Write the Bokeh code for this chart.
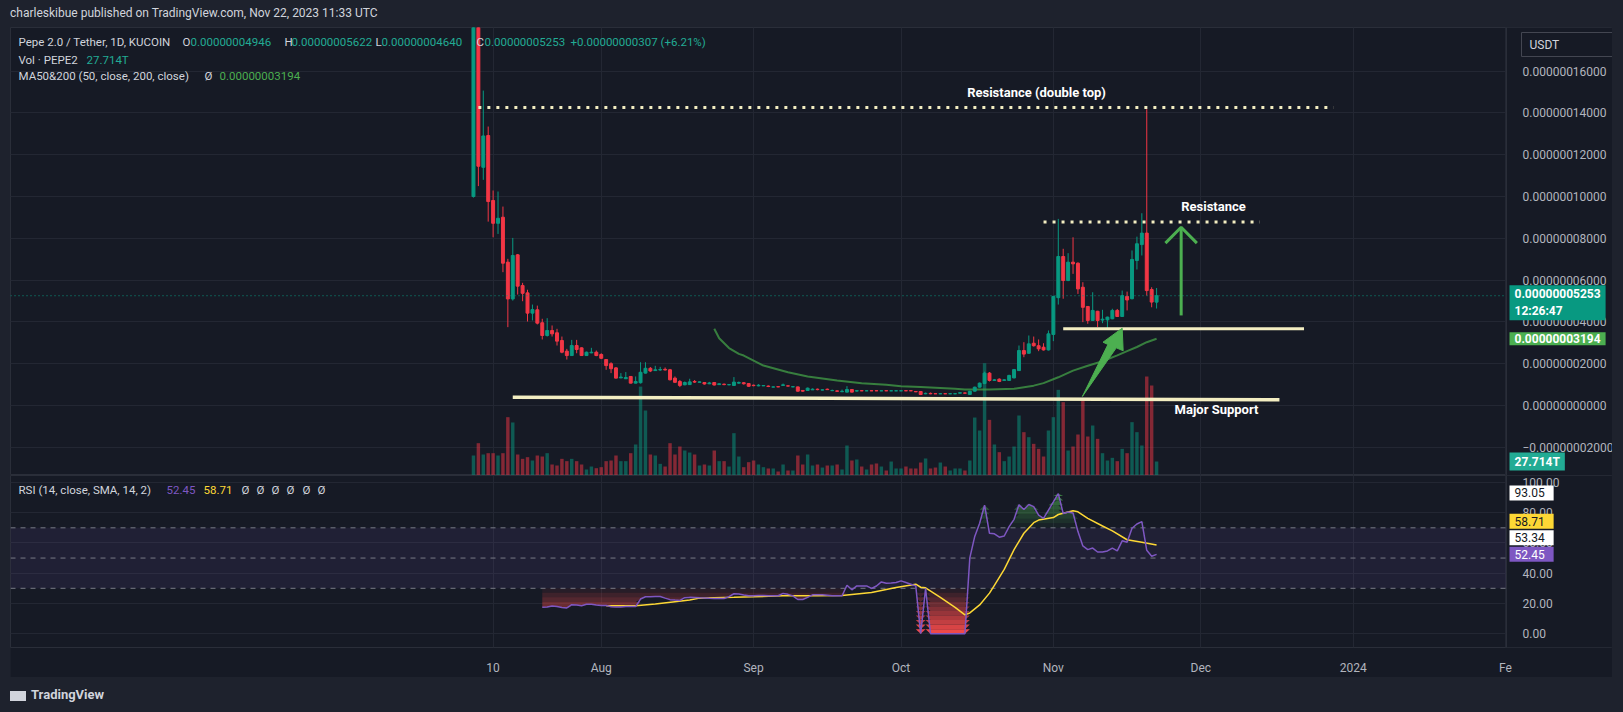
import numpy as np
import pandas as pd
from bokeh.plotting import figure
from bokeh.models import (Range1d, FixedTicker, Span, Label, Div, Spacer,
                          ColumnDataSource, BoxAnnotation, LinearAxis)
from bokeh.layouts import column, row
from bokeh.embed import file_html
from bokeh.resources import INLINE

# ---------------- data (prices in units of 1e-8 USDT, volume in T) ----------------
start_date = "2023-07-06"

open_ = [10.0, 19.5, 11.4, 12.92, 9.81, 8.72, 9.01, 6.86, 5.10, 7.21,
         5.74, 5.39, 4.42, 4.58, 3.96, 3.35, 3.59, 3.48, 3.11, 2.60,
         2.39, 2.87, 2.76, 2.39, 2.52, 2.55, 2.44, 2.20, 2.00, 1.80,
         1.32, 1.28, 1.39, 1.07, 1.09, 1.55, 1.78, 1.67, 1.70, 1.73,
         1.71, 1.31, 1.15, 0.99, 1.00, 1.15, 1.11, 1.10, 1.04, 1.10,
         1.00, 1.02, 0.99, 0.96, 1.07, 1.09, 1.05, 0.97, 0.94, 0.94,
         0.93, 0.88, 0.90, 0.96, 0.94, 0.89, 0.89, 0.72, 0.72, 0.75,
         0.78, 0.74, 0.78, 0.71, 0.70, 0.66, 0.64, 0.766, 0.69, 0.71,
         0.70, 0.71, 0.71, 0.70, 0.71, 0.70, 0.70, 0.70, 0.71, 0.71,
         0.67, 0.67, 0.56, 0.58, 0.565, 0.56, 0.565, 0.56, 0.56, 0.59,
         0.60, 0.53, 0.685, 0.877, 1.05, 1.55, 1.20, 1.26, 1.20, 1.20,
         1.32, 1.67, 2.63, 2.50, 2.98, 2.86, 2.79, 2.66, 3.40, 5.16,
         7.13, 5.98, 6.86, 6.81, 5.66, 4.74, 4.07, 4.51, 4.09, 4.10,
         4.15, 4.55, 4.26, 5.22, 5.11, 6.94, 7.70, 8.25, 5.55, 4.946]

high_ = [21.0, 20.5, 15.07, 13.35, 10.29, 10.24, 9.52, 7.02, 8.02, 7.25,
         5.87, 5.54, 4.83, 4.78, 4.15, 4.18, 3.83, 3.67, 3.30, 2.71,
         3.14, 3.14, 2.78, 2.58, 2.76, 2.63, 2.50, 2.22, 2.07, 1.84,
         1.55, 1.60, 1.40, 1.39, 2.07, 2.07, 1.84, 1.90, 1.85, 1.82,
         1.75, 1.39, 1.22, 1.15, 1.28, 1.22, 1.15, 1.12, 1.13, 1.11,
         1.06, 1.05, 1.02, 1.36, 1.15, 1.12, 1.07, 1.00, 1.02, 0.97,
         0.96, 0.91, 0.91, 1.05, 0.95, 0.91, 0.90, 0.73, 0.86, 0.82,
         0.81, 0.77, 0.81, 0.76, 0.72, 0.76, 0.925, 0.78, 0.74, 0.72,
         0.71, 0.72, 0.72, 0.71, 0.71, 0.71, 0.71, 0.71, 0.72, 0.71,
         0.67, 0.68, 0.62, 0.62, 0.57, 0.57, 0.57, 0.57, 0.57, 0.62,
         0.62, 0.70, 0.90, 1.10, 1.62, 1.60, 1.27, 1.30, 1.26, 1.47,
         1.75, 2.87, 3.03, 3.35, 3.30, 3.16, 2.98, 3.59, 5.25, 8.93,
         7.50, 7.29, 8.05, 6.85, 5.90, 4.76, 5.42, 4.53, 4.58, 4.25,
         4.63, 4.62, 5.50, 5.45, 7.42, 8.08, 9.20, 14.18, 5.66, 5.622]

low_ = [9.95, 10.5, 10.8, 8.8, 8.05, 8.21, 6.38, 3.75, 5.02, 5.31,
        4.99, 4.02, 4.07, 3.88, 3.16, 3.30, 3.30, 2.87, 2.50, 2.20,
        2.39, 2.50, 2.37, 2.37, 2.50, 2.36, 2.22, 1.71, 1.55, 1.30,
        1.31, 1.27, 1.06, 1.06, 1.05, 1.53, 1.60, 1.66, 1.66, 1.68,
        1.20, 1.09, 0.88, 0.97, 0.98, 1.08, 1.10, 1.00, 1.02, 0.96,
        0.98, 0.97, 0.97, 0.95, 1.04, 1.00, 0.90, 0.92, 0.92, 0.93,
        0.88, 0.87, 0.88, 0.95, 0.92, 0.88, 0.67, 0.66, 0.71, 0.74,
        0.73, 0.73, 0.74, 0.69, 0.66, 0.64, 0.63, 0.63, 0.67, 0.69,
        0.69, 0.69, 0.69, 0.69, 0.69, 0.69, 0.69, 0.69, 0.69, 0.69,
        0.64, 0.50, 0.54, 0.54, 0.55, 0.55, 0.55, 0.55, 0.55, 0.58,
        0.58, 0.52, 0.67, 0.86, 1.02, 1.15, 1.18, 1.12, 1.18, 1.18,
        1.30, 1.65, 2.31, 2.48, 2.82, 2.60, 2.63, 2.63, 3.08, 4.83,
        5.11, 5.95, 6.30, 5.34, 3.99, 3.91, 4.05, 3.75, 3.94, 3.67,
        4.13, 4.24, 4.24, 4.55, 5.08, 6.51, 7.18, 5.26, 4.70, 4.640]

close_ = [19.5, 11.45, 12.9, 9.76, 8.72, 8.96, 6.81, 5.10, 7.18, 5.71,
          5.37, 4.42, 4.59, 3.94, 3.35, 3.59, 3.43, 3.08, 2.55, 2.39,
          2.87, 2.68, 2.39, 2.55, 2.55, 2.39, 2.26, 1.91, 1.76, 1.31,
          1.36, 1.34, 1.07, 1.15, 1.59, 1.78, 1.65, 1.71, 1.72, 1.70,
          1.23, 1.11, 0.96, 1.10, 1.13, 1.12, 1.13, 1.03, 1.08, 0.98,
          1.04, 1.00, 1.00, 1.12, 1.10, 1.04, 0.92, 0.95, 0.97, 0.955,
          0.91, 0.89, 0.89, 0.99, 0.93, 0.90, 0.685, 0.685, 0.83, 0.78,
          0.76, 0.75, 0.76, 0.72, 0.68, 0.68, 0.766, 0.64, 0.71, 0.70,
          0.705, 0.70, 0.70, 0.705, 0.70, 0.705, 0.705, 0.705, 0.70, 0.70,
          0.655, 0.526, 0.58, 0.56, 0.56, 0.565, 0.56, 0.565, 0.565, 0.61,
          0.59, 0.685, 0.877, 1.07, 1.55, 1.20, 1.23, 1.15, 1.23, 1.44,
          1.72, 2.63, 2.46, 2.95, 2.86, 2.71, 2.66, 3.43, 5.22, 7.13,
          5.98, 6.86, 6.78, 5.58, 4.70, 4.07, 4.55, 4.07, 4.13, 4.23,
          4.55, 4.26, 5.26, 5.05, 6.99, 7.74, 8.25, 5.50, 4.95, 5.253]

volume_T = [39.6, 64.0, 41.6, 44.2, 44.2, 39.6, 44.2, 115.5, 105.0, 41.6,
            33.0, 36.3, 29.7, 39.6, 37.6, 44.2, 21.8, 19.8, 33.0, 28.4,
            33.0, 28.4, 21.8, 11.9, 17.8, 14.5, 16.5, 28.4, 29.7, 39.6,
            28.4, 28.4, 44.2, 61.4, 176.0, 128.7, 41.6, 39.6, 23.1, 17.8,
            64.0, 41.6, 57.4, 49.5, 45.5, 41.6, 19.8, 21.8, 19.8, 49.5,
            28.4, 28.4, 17.8, 83.8, 37.6, 16.5, 26.4, 29.7, 21.8, 16.5,
            13.9, 13.9, 7.9, 21.8, 9.9, 9.9, 39.6, 21.8, 41.6, 19.8,
            21.8, 15.8, 19.8, 19.8, 21.8, 11.9, 59.4, 29.7, 31.7, 17.8,
            11.9, 21.8, 23.8, 17.8, 9.9, 27.7, 13.9, 13.9, 17.8, 13.9,
            13.9, 25.7, 33.7, 13.9, 15.8, 25.7, 17.8, 9.9, 13.9, 13.9,
            9.9, 29.7, 114.8, 89.1, 222.4, 110.2, 61.4, 46.2, 28.4, 37.6,
            57.4, 118.8, 85.8, 75.9, 62.7, 52.8, 37.6, 89.1, 115.5, 169.6,
            145.2, 49.5, 57.4, 81.2, 151.8, 77.2, 99.0, 72.6, 44.2, 29.7,
            35.0, 28.4, 52.8, 44.2, 105.6, 85.8, 59.4, 196.0, 178.2, 27.714]

ma50_idx = [49, 50, 52, 54, 55, 59, 64, 68, 74, 79, 84, 87, 91, 94, 98, 100,
            105, 110, 114, 116, 119, 122, 125, 128, 131, 133, 135, 137, 139]
ma50_val = [3.67, 3.22, 2.75, 2.47, 2.39, 1.91, 1.59, 1.39, 1.20, 1.07, 0.99,
            0.92, 0.88, 0.85, 0.80, 0.77, 0.77, 0.80, 0.95, 1.07, 1.35, 1.67,
            1.90, 2.12, 2.40, 2.60, 2.80, 3.03, 3.194]

rsi_start = 14
rsi_vals = [17.4, 17.6, 18.3, 17.9, 17.3, 17.0, 19.2, 19.0, 18.5, 19.4,
            19.4, 19.0, 18.7, 18.7, 17.8, 17.6, 17.6, 17.9, 17.9, 17.9,
            22.9, 24.4, 24.4, 24.5, 24.6, 23.5, 22.5, 22.2, 22.0, 23.8,
            24.0, 23.9, 23.7, 23.6, 23.4, 23.3, 23.3, 23.3, 24.5, 26.4,
            26.2, 25.6, 25.1, 25.1, 25.3, 25.2, 25.1, 25.1, 25.1, 26.6,
            26.0, 25.0, 22.6, 22.6, 24.0, 25.7, 25.7, 25.7, 25.4, 25.1,
            25.0, 25.1, 32.0, 29.0, 31.6, 31.6, 31.6, 29.9, 31.5, 34.2,
            33.3, 33.5, 33.8, 34.9, 33.8, 32.7, 31.6, 0.0, 29.9, 0.0,
            0.0, 0.0, 0.0, 0.0, 0.0, 0.0, 0.0, 50.1, 64.3, 73.0,
            85.0, 66.4, 66.0, 63.8, 64.6, 70.8, 75.6, 85.2, 82.1, 85.4,
            84.0, 78.4, 76.3, 81.7, 87.1, 92.6, 79.5, 80.5, 79.8, 67.5,
            58.0, 55.6, 56.6, 54.0, 54.0, 54.7, 56.6, 54.8, 61.4, 60.4,
            69.7, 72.5, 74.1, 55.1, 51.2, 52.45]

rsi_ma_idx = [27, 33, 37, 41, 44, 46, 49, 53, 57, 63, 70, 75, 81, 86, 90, 91, 92,
              95, 98, 100, 101, 103, 105, 106, 108, 110, 112, 114, 115, 118, 119,
              122, 123, 125, 128, 130, 133, 136, 139]
rsi_ma_val = [18.5, 18.5, 19.6, 21.1, 22.2, 23.5, 23.7, 24.0, 24.4, 25.1, 25.1,
              25.3, 27.2, 30.5, 32.7, 30.7, 30.3, 24.0, 17.4, 12.4, 13.7, 19.0,
              26.8, 32.0, 42.5, 55.6, 66.4, 73.4, 75.1, 76.8, 78.8, 81.3, 80.6,
              76.3, 71.2, 68.0, 62.1, 60.4, 58.71]

tick_dates = ["2023-07-10", "2023-08-01", "2023-09-01", "2023-10-01",
              "2023-11-01", "2023-12-01", "2024-01-01", "2024-02-01"]
tick_labels = ["10", "Aug", "Sep", "Oct", "Nov", "Dec", "2024", "Fe"]
price_ticks = [-2, 0, 2, 4, 6, 8, 10, 12, 14, 16]
rsi_ticks = [0, 20, 40, 60, 80, 100]

# user drawings (date anchors, prices in 1e-8)
double_top_dates = ["2023-07-07", "2023-12-28"]
double_top_price = 14.26
resist_dates = ["2023-10-30", "2023-12-13"]
resist_price = 8.78
support_dates = ["2023-11-03", "2023-12-22"]
support_price = 3.67
major_support_dates = ["2023-07-14", "2023-12-17"]
major_support_prices = [0.40, 0.27]
up_arrow_date = "2023-11-27"
up_arrow_prices = [4.31, 8.53]
up_arrow_wing = (3.2, 7.77)
diag_arrow_days = [123.9, 129.1, 128.1, 132.0, 132.2, 130.8]
diag_arrow_prices = [0.43, 2.92, 3.03, 3.70, 2.62, 2.76]

# ---------------- styling ----------------
BG = "#161a25"
OUTER = "#1e222d"
GRID = "#232733"
BORDER = "#2a2e39"
TEXT = "#d1d4dc"
AXT = "#b2b5be"
UP = "#089981"
DOWN = "#f23645"
TEAL_TXT = "#22ab94"
FONT = "Roboto"
PALE = "#f3eec2"
LEG = "11.5px"

n = len(close_)
dates = pd.date_range(start_date, periods=n, freq="D")
x = np.arange(n)


def day(d):
    return (pd.Timestamp(d) - dates[0]).days


tick_pos = [day(d) for d in tick_dates]

PPD = 1496 / 304.4          # pixels per day
X0 = -94.2                  # page x = 10
X_AX = 210.2                # page x = 1506 (price scale boundary)
X1 = X0 + 1602 / PPD        # page x = 1612
xr = Range1d(X0, X1)
PY0, PY1 = -3.35, 18.09
RY0, RY1 = -9.15, 104.6


def px_to_x(px):
    return X0 + (px - 10) / PPD


def py_to_price(py):
    return PY1 - (py - 27) / 448 * (PY1 - PY0)


def py_to_rsi(py):
    return RY1 - (py - 475) / 174 * (RY1 - RY0)


o = np.array(open_); c = np.array(close_)
up = c >= o
colors = [UP if u else DOWN for u in up]
src = ColumnDataSource(dict(
    x=x, o=o, h=np.array(high_), l=np.array(low_), c=c,
    top=np.maximum(o, c), bottom=np.minimum(o, c),
    color=colors, vol=np.array(volume_T)))


def style_axis(ax, standoff):
    ax.axis_line_color = None
    ax.major_tick_line_color = None
    ax.minor_tick_line_color = None
    ax.major_label_text_color = AXT
    ax.major_label_text_font = FONT
    ax.major_label_text_font_size = "12px"
    ax.major_label_standoff = standoff


def price_scale_mask(fig):
    fig.add_layout(BoxAnnotation(left=X_AX, fill_color=BG, fill_alpha=1.0,
                                 line_color=None, level="underlay"))
    fig.add_layout(Span(location=X_AX, dimension="height", line_color=BORDER,
                        line_width=1))


# ---------------- main price pane ----------------
p = figure(width=1602, height=448, x_range=xr, y_range=Range1d(PY0, PY1),
           output_backend="svg", toolbar_location=None,
           x_axis_location=None, y_axis_location=None,
           min_border_left=0, min_border_right=0, min_border_top=0,
           min_border_bottom=0, background_fill_color=BG,
           border_fill_color=BG, outline_line_color=BORDER)
p.extra_y_ranges = {"vol": Range1d(0, 887)}
p.xgrid.ticker = FixedTicker(ticks=tick_pos)
p.ygrid.ticker = FixedTicker(ticks=price_ticks)
p.xgrid.grid_line_color = GRID
p.ygrid.grid_line_color = GRID
price_scale_mask(p)

yax = LinearAxis(fixed_location=X_AX, ticker=FixedTicker(ticks=price_ticks))
yax.major_label_overrides = {
    t: f"{t * 1e-8:.11f}".replace("-", "\u2212") for t in price_ticks}
style_axis(yax, 10)
p.add_layout(yax, "right")

p.vbar(x="x", width=0.7, top="vol", bottom=0, source=src, fill_color="color",
       fill_alpha=0.5, line_color=None, y_range_name="vol")
p.line(ma50_idx, ma50_val, line_color="#43a047", line_alpha=0.75, line_width=2)
p.segment(x0="x", y0="l", x1="x", y1="h", source=src, line_color="color",
          line_width=1)
p.vbar(x="x", width=0.6, top="top", bottom="bottom", source=src,
       fill_color="color", line_color="color", line_width=1)

# last price line
p.line([X0, X_AX], [close_[-1], close_[-1]], line_color=UP, line_dash="1 3",
       line_width=1)

# drawings
p.line([day(d) for d in double_top_dates], [double_top_price] * 2,
       line_color=PALE, line_width=3, line_dash="3 6")
p.line([day(d) for d in resist_dates], [resist_price] * 2,
       line_color=PALE, line_width=3, line_dash="3 6")
p.line([day(d) for d in support_dates], [support_price] * 2,
       line_color=PALE, line_width=3)
p.line([day(d) for d in major_support_dates], major_support_prices,
       line_color=PALE, line_width=3.5)
ua = day(up_arrow_date)
p.line([ua, ua], up_arrow_prices, line_color="#4caf50", line_width=3)
p.line([ua - up_arrow_wing[0], ua, ua + up_arrow_wing[0]],
       [up_arrow_wing[1], up_arrow_prices[1], up_arrow_wing[1]],
       line_color="#4caf50", line_width=3)
p.patch(diag_arrow_days, diag_arrow_prices, fill_color="#4caf50",
        line_color="#4caf50", line_width=1)

for txt, px, py in [("Resistance (double top)", 1036, 92),
                    ("Resistance", 1213, 206),
                    ("Major Support", 1216, 409)]:
    p.add_layout(Label(x=px_to_x(px), y=py_to_price(py), text=txt,
                       text_color="#ffffff", text_font=FONT,
                       text_font_size="13px", text_font_style="bold",
                       text_align="center", text_baseline="middle"))


def legend(fig, conv, px, py, text, color, size=LEG):
    fig.add_layout(Label(x=px_to_x(px), y=conv(py), text=text,
                         text_color=color, text_font=FONT,
                         text_font_size=size, text_align="left",
                         text_baseline="middle"))


for t, px, col in [("Pepe 2.0 / Tether, 1D, KUCOIN", 18, TEXT),
                   ("O", 182, TEXT), ("0.00000004946", 190, TEAL_TXT),
                   ("H", 284, TEXT), ("0.00000005622", 291, TEAL_TXT),
                   ("L", 375, TEXT), ("0.00000004640", 381, TEAL_TXT),
                   ("C", 476, TEXT), ("0.00000005253", 484, TEAL_TXT),
                   ("+0.00000000307 (+6.21%)", 570, TEAL_TXT)]:
    legend(p, py_to_price, px, 41.5, t, col)
legend(p, py_to_price, 18, 59, "Vol \u00b7 PEPE2", TEXT)
legend(p, py_to_price, 86, 59, "27.714T", TEAL_TXT)
legend(p, py_to_price, 18, 75.5, "MA50&200 (50, close, 200, close)", TEXT)
legend(p, py_to_price, 204, 75.5, "\u00d8", TEXT)
legend(p, py_to_price, 219, 75.5, "0.00000003194", "#4caf50")


def tag(fig, yval, text, bg, fg="#ffffff", y_range_name="default", yoff=0,
        pad=None, bold=True):
    kw = {}
    if y_range_name != "default":
        kw["y_range_name"] = y_range_name
    fig.add_layout(Label(x=X_AX, y=yval, x_offset=3, y_offset=yoff, text=text,
                         text_color=fg, text_font=FONT, text_font_size="12px",
                         text_font_style="bold" if bold else "normal",
                         text_align="left", text_baseline="middle",
                         background_fill_color=bg, background_fill_alpha=1.0,
                         padding=pad or dict(left=5, right=5, top=2, bottom=2),
                         **kw))


tag(p, close_[-1], "0.00000005253\n12:26:47", "#089981", yoff=-7)
tag(p, ma50_val[-1], "0.00000003194", "#4caf50")
tag(p, volume_T[-1], "27.714T", "#22ab94", y_range_name="vol")
p.add_layout(Label(x=px_to_x(1521), y=py_to_price(44), text="USDT",
                   text_color=TEXT, text_font=FONT, text_font_size="12px",
                   text_baseline="middle", text_align="left",
                   background_fill_color=BG, border_line_color="#434651",
                   padding=dict(left=8, right=54, top=5, bottom=5)))

# ---------------- RSI pane ----------------
r = figure(width=1602, height=202, x_range=xr, y_range=Range1d(RY0, RY1),
           output_backend="svg", toolbar_location=None,
           y_axis_location=None, min_border_left=0, min_border_right=0,
           min_border_top=0, min_border_bottom=28,
           background_fill_color=BG, border_fill_color=BG,
           outline_line_color=BORDER)
r.xaxis.ticker = FixedTicker(ticks=tick_pos)
r.xaxis.major_label_overrides = dict(zip(tick_pos, tick_labels))
style_axis(r.xaxis[0], 7)
r.xgrid.grid_line_color = GRID
r.ygrid.ticker = FixedTicker(ticks=rsi_ticks)
r.ygrid.grid_line_color = GRID
price_scale_mask(r)

rax = LinearAxis(fixed_location=X_AX, ticker=FixedTicker(ticks=rsi_ticks))
rax.major_label_overrides = {t: f"{t:.2f}" for t in rsi_ticks}
style_axis(rax, 10)
r.add_layout(rax, "right")

r.add_layout(BoxAnnotation(bottom=30, top=70, right=X_AX, fill_color="#7e57c2",
                           fill_alpha=0.1, line_color=None, level="underlay"))

rx = np.arange(rsi_start, rsi_start + len(rsi_vals))
rv = np.array(rsi_vals)
for k in range(10):
    hi = 30 - 3 * k
    lo = hi - 3
    r.varea(x=rx, y1=np.clip(rv, lo, hi), y2=np.full(len(rv), float(hi)),
            fill_color="#f44a4a", fill_alpha=min(1.0, 0.08 + 0.1 * k))
    lo2 = 70 + 3 * k
    hi2 = lo2 + 3
    r.varea(x=rx, y1=np.full(len(rv), float(lo2)), y2=np.clip(rv, lo2, hi2),
            fill_color="#4caf50", fill_alpha=0.06 + 0.09 * k)

for lvl in (70, 50, 30):
    r.line([X0, X_AX], [lvl, lvl], line_color="#787b86", line_dash="5 5",
           line_width=1)

r.line(rsi_ma_idx, rsi_ma_val, line_color="#fdd835", line_width=1.5)
r.line(rx, rv, line_color="#7e57c2", line_width=1.5)

legend(r, py_to_rsi, 18, 490, "RSI (14, close, SMA, 14, 2)", TEXT)
legend(r, py_to_rsi, 166, 490, "52.45", "#7e57c2")
legend(r, py_to_rsi, 203, 490, "58.71", "#fdd835")
for px in (241, 256, 271, 286, 302, 317):
    legend(r, py_to_rsi, px, 490, "\u00d8", TEXT)

RPAD = dict(left=5, right=9, top=3, bottom=3)
tag(r, 93.05, "93.05", "#ffffff", fg="#131722", bold=False, pad=RPAD)
tag(r, rsi_vals[-1], "58.71", "#fdd835", fg="#131722", yoff=33, bold=False,
    pad=RPAD)
tag(r, rsi_vals[-1], "53.34", "#ffffff", fg="#131722", yoff=16.5, bold=False,
    pad=RPAD)
tag(r, rsi_vals[-1], "52.45", "#7e57c2", bold=False, pad=RPAD)

# ---------------- page ----------------
header = Div(text=('<div style="padding-left:10px;line-height:27px;'
                   'font-family:Roboto;font-size:12px;color:#d1d4dc;">'
                   'charleskibue published on TradingView.com, '
                   'Nov 22, 2023 11:33 UTC</div>'),
             width=1623, height=27, margin=0,
             styles={"background-color": OUTER})
footer = Div(text=('<div style="padding-left:10px;line-height:35px;'
                   'font-family:Roboto;font-size:13px;font-weight:bold;'
                   'color:#d1d4dc;"><span style="display:inline-block;'
                   'width:16px;height:10px;background:#d1d4dc;'
                   'margin-right:5px;vertical-align:middle;"></span>'
                   'TradingView</div>'),
             width=1623, height=35, margin=0,
             styles={"background-color": OUTER})
bg = {"background-color": OUTER}
body = row(Spacer(width=10, height=650, styles=bg, margin=0), column(p, r),
           Spacer(width=11, height=650, styles=bg, margin=0))
root = column(header, body, footer, styles=bg)

open("out.html", "w").write(file_html(root, INLINE))
